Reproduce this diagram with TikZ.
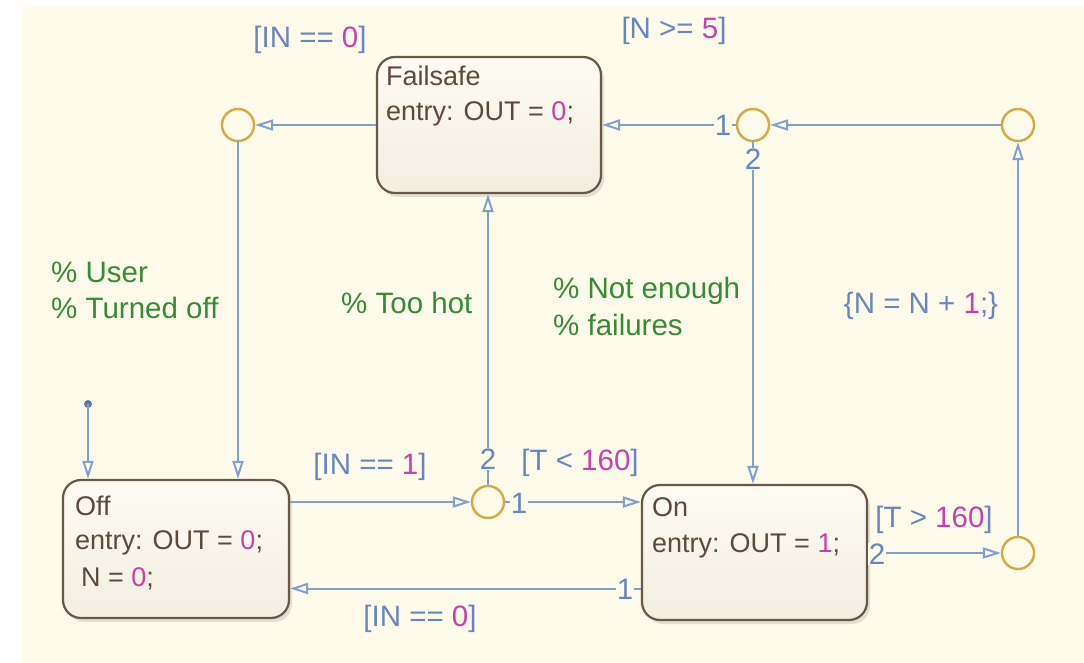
\documentclass[tikz,border=0pt]{standalone}
\usepackage{fontspec}
\setmainfont{Liberation Sans}
\usetikzlibrary{arrows.meta,shadows}
\definecolor{bgcream}{RGB}{255,251,235}
\definecolor{lineblue}{RGB}{128,160,212}
\definecolor{textblue}{RGB}{104,134,198}
\definecolor{numpink}{RGB}{200,64,172}
\definecolor{cmtgreen}{RGB}{52,140,52}
\definecolor{junc}{RGB}{214,170,64}
\definecolor{stborder}{RGB}{104,88,72}
\definecolor{sttext}{RGB}{92,74,58}
\definecolor{sttop}{RGB}{253,251,244}
\definecolor{stbot}{RGB}{243,238,224}
\tikzset{
  every node/.style={font=\fontsize{29.5}{34}\selectfont},
  stbox/.style={draw=stborder, line width=2.2pt, rounded corners=18pt,
    top color=sttop, bottom color=stbot,
    drop shadow={opacity=0.22, shadow xshift=3pt, shadow yshift=-4pt}},
  sttxt/.style={anchor=base west, text=sttext, inner sep=0pt, font=\fontsize{27}{30}\selectfont},
  jn/.style={circle, draw=junc, line width=2.4pt, fill=bgcream, minimum size=32pt, inner sep=0pt},
  tr/.style={draw=lineblue, line width=2pt,
    -{Triangle[open, length=18pt, width=11pt, line width=2pt]}},
  trl/.style={text=textblue, inner sep=1pt},
  num/.style={text=textblue, fill=bgcream, inner sep=1pt},
  cmt/.style={text=cmtgreen, anchor=base west, inner sep=0pt},
}
\begin{document}
\begin{tikzpicture}[x=1pt, y=-1pt]
\useasboundingbox (0,0) rectangle (1084,663);
\fill[white] (0,0) rectangle (1084,663);
\fill[bgcream] (22,7) rectangle (1084,663);

% states
\node[stbox, minimum width=224pt, minimum height=136pt] (fs) at (489,125) {};
\node[stbox, minimum width=226pt, minimum height=138pt] (off) at (176,549) {};
\node[stbox, minimum width=225pt, minimum height=135pt] (on) at (754.5,552.5) {};

\node[sttxt] (fs1) at (386,86) {Failsafe};
\node[sttxt] (fs2) at (386,121) {entry: OUT = \textcolor{numpink}{0};};
\node[sttxt] (off1) at (75,515) {Off};
\node[sttxt] (off2) at (75,549) {entry: OUT = \textcolor{numpink}{0};};
\node[sttxt] (off3) at (81,586) {N = \textcolor{numpink}{0};};
\node[sttxt] (on1) at (652,516) {On};
\node[sttxt] (on2) at (652,552) {entry: OUT = \textcolor{numpink}{1};};

% junctions
\node[jn] (jL) at (238,125) {};
\node[jn] (jTM) at (753,125) {};
\node[jn] (jTR) at (1018,125) {};
\node[jn] (jM) at (488,502) {};
\node[jn] (jBR) at (1018,553) {};

% default transition
\coordinate (init) at (88,404);
\fill[lineblue!75!black] (init) circle (4pt);
\draw[tr] (init) -- (init |- off.north);

% transitions
\draw[tr] (fs.west |- jL) -- (jL.east);
\draw[tr] (jL.south) -- (jL.south |- off.north);
\draw[tr] (off.east |- jM) -- (jM.west);
\draw[tr] (jM.east) -- (jM.east -| on.west);
\draw[tr] (jM.north) -- (jM.north |- fs.south);
\draw[tr] ([yshift=-36pt]on.west) -- ([yshift=-36pt]on.west -| off.east);
\draw[tr] (on.east |- jBR) -- (jBR.west);
\draw[tr] (jBR.north) -- (jTR.south);
\draw[tr] (jTR.west) -- (jTM.east);
\draw[tr] (jTM.west) -- (jTM.west -| fs.east);
\draw[tr] (jTM.south) -- (jTM.south |- on.north);

% transition numbers
\node[num] (n1) at (723,125) {1};
\node[num] (n2) at (753,159) {2};
\node[num] (n3) at (488,459) {2};
\node[num] (n4) at (519,503) {1};
\node[num] (n5) at (625,589) {1};
\node[num] (n6) at (877,554) {2};

% transition labels
\node[trl] (l1) at (310,40) {[IN == \textcolor{numpink}{0}]};
\node[trl] (l2) at (674,31) {[N >= \textcolor{numpink}{5}]};
\node[trl] (l3) at (370,467) {[IN == \textcolor{numpink}{1}]};
\node[trl] (l4) at (580,463) {[T < \textcolor{numpink}{160}]};
\node[trl] (l5) at (420,619) {[IN == \textcolor{numpink}{0}]};
\node[trl] (l6) at (934,520) {[T > \textcolor{numpink}{160}]};
\node[trl] (l7) at (921,306) {\{N = N + \textcolor{numpink}{1};\}};

% comments
\node[cmt] (c1) at (51,282) {\% User};
\node[cmt] (c2) at (51,318) {\% Turned off};
\node[cmt] (c3) at (341,313) {\% Too hot};
\node[cmt] (c4) at (553,298) {\% Not enough};
\node[cmt] (c5) at (553,335) {\% failures};
\end{tikzpicture}
\end{document}
